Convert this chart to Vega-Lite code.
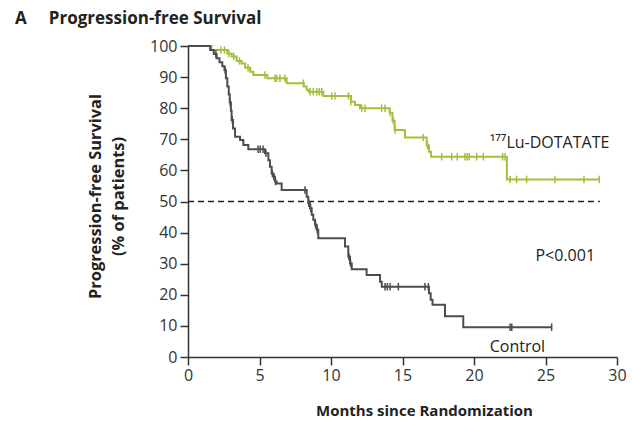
{
  "$schema": "https://vega.github.io/schema/vega-lite/v6.json",
  "width": 429,
  "height": 311,
  "autosize": "none",
  "padding": {"left": 188, "top": 46, "right": 15, "bottom": 69},
  "background": "white",
  "config": {"view": {"stroke": null}, "font": "Open Sans"},
  "title": {
    "text": "A\u00a0\u00a0\u00a0\u00a0 Progression-free Survival",
    "anchor": "start",
    "frame": "group",
    "dx": -173,
    "dy": 24,
    "offset": 21,
    "baseline": "alphabetic",
    "fontSize": 17,
    "fontWeight": "bold",
    "font": "Open Sans",
    "color": "#222"
  },
  "datasets": {
    "curves": [
      {"group": "Lu", "month": 0, "pfs": 100},
      {"group": "Lu", "month": 1.65, "pfs": 98.7},
      {"group": "Lu", "month": 2.75, "pfs": 97.6},
      {"group": "Lu", "month": 3.05, "pfs": 96.6},
      {"group": "Lu", "month": 3.4, "pfs": 95.2},
      {"group": "Lu", "month": 3.75, "pfs": 94.4},
      {"group": "Lu", "month": 4.0, "pfs": 93},
      {"group": "Lu", "month": 4.35, "pfs": 91.7},
      {"group": "Lu", "month": 4.57, "pfs": 90.7},
      {"group": "Lu", "month": 5.55, "pfs": 89.6},
      {"group": "Lu", "month": 6.9, "pfs": 88.0},
      {"group": "Lu", "month": 8.1, "pfs": 87.0},
      {"group": "Lu", "month": 8.3, "pfs": 85.9},
      {"group": "Lu", "month": 8.45, "pfs": 85.3},
      {"group": "Lu", "month": 9.46, "pfs": 83.9},
      {"group": "Lu", "month": 11.4, "pfs": 82.1},
      {"group": "Lu", "month": 11.68, "pfs": 81},
      {"group": "Lu", "month": 12.03, "pfs": 80},
      {"group": "Lu", "month": 14.1, "pfs": 78.5},
      {"group": "Lu", "month": 14.3, "pfs": 76},
      {"group": "Lu", "month": 14.45, "pfs": 73},
      {"group": "Lu", "month": 15.17, "pfs": 70.6},
      {"group": "Lu", "month": 16.69, "pfs": 68},
      {"group": "Lu", "month": 16.85, "pfs": 66},
      {"group": "Lu", "month": 17.0, "pfs": 64.4},
      {"group": "Lu", "month": 22.3, "pfs": 57.1},
      {"group": "Lu", "month": 28.8, "pfs": 57.1},
      {"group": "Control", "month": 0, "pfs": 100},
      {"group": "Control", "month": 1.55, "pfs": 98.7},
      {"group": "Control", "month": 1.8, "pfs": 97.4},
      {"group": "Control", "month": 2.0, "pfs": 96.1},
      {"group": "Control", "month": 2.2, "pfs": 94.8},
      {"group": "Control", "month": 2.4, "pfs": 93.5},
      {"group": "Control", "month": 2.55, "pfs": 92.2},
      {"group": "Control", "month": 2.65, "pfs": 89.6},
      {"group": "Control", "month": 2.75, "pfs": 87},
      {"group": "Control", "month": 2.85, "pfs": 84.4},
      {"group": "Control", "month": 2.92, "pfs": 81.8},
      {"group": "Control", "month": 3.0, "pfs": 79.2},
      {"group": "Control", "month": 3.05, "pfs": 76.2},
      {"group": "Control", "month": 3.15, "pfs": 73.5},
      {"group": "Control", "month": 3.29, "pfs": 70.8},
      {"group": "Control", "month": 3.64, "pfs": 69.8},
      {"group": "Control", "month": 3.87, "pfs": 68.2},
      {"group": "Control", "month": 4.22, "pfs": 66.8},
      {"group": "Control", "month": 5.38, "pfs": 65.5},
      {"group": "Control", "month": 5.62, "pfs": 63.3},
      {"group": "Control", "month": 5.73, "pfs": 61.2},
      {"group": "Control", "month": 5.85, "pfs": 59.0},
      {"group": "Control", "month": 5.97, "pfs": 58.0},
      {"group": "Control", "month": 6.08, "pfs": 56.4},
      {"group": "Control", "month": 6.2, "pfs": 55.8},
      {"group": "Control", "month": 6.55, "pfs": 53.7},
      {"group": "Control", "month": 8.3, "pfs": 51.5},
      {"group": "Control", "month": 8.41, "pfs": 49.4},
      {"group": "Control", "month": 8.53, "pfs": 47.8},
      {"group": "Control", "month": 8.65, "pfs": 45.7},
      {"group": "Control", "month": 8.76, "pfs": 44.1},
      {"group": "Control", "month": 8.88, "pfs": 42.5},
      {"group": "Control", "month": 9.0, "pfs": 40.9},
      {"group": "Control", "month": 9.11, "pfs": 38.2},
      {"group": "Control", "month": 10.98, "pfs": 35.5},
      {"group": "Control", "month": 11.21, "pfs": 32.3},
      {"group": "Control", "month": 11.33, "pfs": 30.1},
      {"group": "Control", "month": 11.45, "pfs": 28.2},
      {"group": "Control", "month": 12.49, "pfs": 26.4},
      {"group": "Control", "month": 13.43, "pfs": 24.2},
      {"group": "Control", "month": 13.55, "pfs": 22.6},
      {"group": "Control", "month": 16.85, "pfs": 20.5},
      {"group": "Control", "month": 16.97, "pfs": 18.4},
      {"group": "Control", "month": 17.1, "pfs": 16.8},
      {"group": "Control", "month": 17.97, "pfs": 13.1},
      {"group": "Control", "month": 19.25, "pfs": 9.6},
      {"group": "Control", "month": 25.43, "pfs": 9.6}
    ],
    "censor": [
      {"group": "Lu", "month": 2.3, "pfs": 98.7},
      {"group": "Lu", "month": 2.55, "pfs": 98.7},
      {"group": "Lu", "month": 2.85, "pfs": 97.6},
      {"group": "Lu", "month": 3.2, "pfs": 96.6},
      {"group": "Lu", "month": 3.6, "pfs": 95.2},
      {"group": "Lu", "month": 4.2, "pfs": 93},
      {"group": "Lu", "month": 5.38, "pfs": 90.7},
      {"group": "Lu", "month": 6.08, "pfs": 89.6},
      {"group": "Lu", "month": 6.2, "pfs": 89.6},
      {"group": "Lu", "month": 6.43, "pfs": 89.6},
      {"group": "Lu", "month": 6.78, "pfs": 89.6},
      {"group": "Lu", "month": 8.07, "pfs": 88.0},
      {"group": "Lu", "month": 8.53, "pfs": 85.3},
      {"group": "Lu", "month": 8.76, "pfs": 85.3},
      {"group": "Lu", "month": 9.0, "pfs": 85.3},
      {"group": "Lu", "month": 9.18, "pfs": 85.3},
      {"group": "Lu", "month": 9.35, "pfs": 85.3},
      {"group": "Lu", "month": 10.05, "pfs": 83.9},
      {"group": "Lu", "month": 10.28, "pfs": 83.9},
      {"group": "Lu", "month": 11.22, "pfs": 83.9},
      {"group": "Lu", "month": 11.38, "pfs": 82.1},
      {"group": "Lu", "month": 12.15, "pfs": 80},
      {"group": "Lu", "month": 12.38, "pfs": 80},
      {"group": "Lu", "month": 13.54, "pfs": 80},
      {"group": "Lu", "month": 13.78, "pfs": 80},
      {"group": "Lu", "month": 14.13, "pfs": 78.5},
      {"group": "Lu", "month": 14.36, "pfs": 76},
      {"group": "Lu", "month": 14.48, "pfs": 73},
      {"group": "Lu", "month": 16.45, "pfs": 70.6},
      {"group": "Lu", "month": 16.75, "pfs": 68},
      {"group": "Lu", "month": 17.74, "pfs": 64.4},
      {"group": "Lu", "month": 18.44, "pfs": 64.4},
      {"group": "Lu", "month": 18.83, "pfs": 64.4},
      {"group": "Lu", "month": 19.37, "pfs": 64.4},
      {"group": "Lu", "month": 19.53, "pfs": 64.4},
      {"group": "Lu", "month": 19.67, "pfs": 64.4},
      {"group": "Lu", "month": 20.19, "pfs": 64.4},
      {"group": "Lu", "month": 20.65, "pfs": 64.4},
      {"group": "Lu", "month": 22.0, "pfs": 64.4},
      {"group": "Lu", "month": 22.17, "pfs": 64.4},
      {"group": "Lu", "month": 22.52, "pfs": 57.1},
      {"group": "Lu", "month": 22.98, "pfs": 57.1},
      {"group": "Lu", "month": 23.68, "pfs": 57.1},
      {"group": "Lu", "month": 25.66, "pfs": 57.1},
      {"group": "Lu", "month": 27.69, "pfs": 57.1},
      {"group": "Lu", "month": 28.76, "pfs": 57.1},
      {"group": "Control", "month": 1.95, "pfs": 97.4},
      {"group": "Control", "month": 2.6, "pfs": 92.2},
      {"group": "Control", "month": 2.95, "pfs": 81.8},
      {"group": "Control", "month": 3.1, "pfs": 76.2},
      {"group": "Control", "month": 4.9, "pfs": 66.8},
      {"group": "Control", "month": 5.05, "pfs": 66.8},
      {"group": "Control", "month": 5.25, "pfs": 66.8},
      {"group": "Control", "month": 5.45, "pfs": 65.5},
      {"group": "Control", "month": 5.9, "pfs": 59.0},
      {"group": "Control", "month": 6.0, "pfs": 58.0},
      {"group": "Control", "month": 6.12, "pfs": 56.4},
      {"group": "Control", "month": 8.18, "pfs": 53.7},
      {"group": "Control", "month": 8.45, "pfs": 49.4},
      {"group": "Control", "month": 8.58, "pfs": 47.8},
      {"group": "Control", "month": 8.92, "pfs": 42.5},
      {"group": "Control", "month": 9.04, "pfs": 40.9},
      {"group": "Control", "month": 11.25, "pfs": 32.3},
      {"group": "Control", "month": 11.37, "pfs": 30.1},
      {"group": "Control", "month": 13.78, "pfs": 22.6},
      {"group": "Control", "month": 13.94, "pfs": 22.6},
      {"group": "Control", "month": 14.13, "pfs": 22.6},
      {"group": "Control", "month": 14.71, "pfs": 22.6},
      {"group": "Control", "month": 16.57, "pfs": 22.6},
      {"group": "Control", "month": 16.81, "pfs": 22.6},
      {"group": "Control", "month": 22.52, "pfs": 9.6},
      {"group": "Control", "month": 22.64, "pfs": 9.6},
      {"group": "Control", "month": 25.43, "pfs": 9.6}
    ],
    "refline": [
      {"month": 0, "month_end": 28.8, "pfs": 50}
    ],
    "labels": [
      {"label": "¹⁷⁷Lu-DOTATATE", "month": 21.1, "pfs": 68.8},
      {"label": "P<0.001", "month": 24.3, "pfs": 32.5},
      {"label": "Control", "month": 21.1, "pfs": 3.2}
    ]
  },
  "encoding": {
    "x": {
      "field": "month",
      "type": "quantitative",
      "scale": {"domain": [0, 30], "nice": false, "zero": false},
      "axis": {
        "title": "Months since Randomization",
        "values": [0, 5, 10, 15, 20, 25, 30],
        "grid": false,
        "domainColor": "#333",
        "domainWidth": 1.5,
        "tickColor": "#333",
        "tickWidth": 1.5,
        "tickSize": 8,
        "labelFlush": false,
        "labelFont": "Open Sans",
        "labelFontSize": 16,
        "labelColor": "#333",
        "labelPadding": 2,
        "titleFont": "Open Sans",
        "titleFontSize": 15,
        "titleFontWeight": "bold",
        "titleColor": "#222",
        "titlePadding": 20,
        "titleX": 236
      }
    },
    "y": {
      "field": "pfs",
      "type": "quantitative",
      "scale": {"domain": [0, 100], "nice": false},
      "axis": {
        "title": ["Progression-free Survival", "(% of patients)"],
        "values": [0, 10, 20, 30, 40, 50, 60, 70, 80, 90, 100],
        "grid": false,
        "domainColor": "#333",
        "domainWidth": 1.5,
        "tickColor": "#333",
        "tickWidth": 1.5,
        "tickSize": 8,
        "labelFlush": false,
        "labelFont": "Open Sans",
        "labelFontSize": 16,
        "labelColor": "#333",
        "labelPadding": 3,
        "titleFont": "Open Sans",
        "titleFontSize": 16.4,
        "titleFontWeight": "bold",
        "titleColor": "#222",
        "titlePadding": 23,
        "titleLineHeight": 23,
        "titleY": 150
      }
    }
  },
  "layer": [
    {
      "data": {"name": "refline"},
      "mark": {"type": "rule", "color": "#222", "strokeWidth": 1.5, "strokeDash": [6, 4]},
      "encoding": {"x2": {"field": "month_end"}}
    },
    {
      "data": {"name": "curves"},
      "mark": {"type": "line", "interpolate": "step-after", "strokeWidth": 2},
      "encoding": {
        "color": {
          "field": "group",
          "type": "nominal",
          "scale": {"domain": ["Lu", "Control"], "range": ["#a2bf3e", "#4d4d4f"]},
          "legend": null
        },
        "detail": {"field": "group"}
      }
    },
    {
      "data": {"name": "censor"},
      "mark": {"type": "point", "shape": "M0,-1L0,1", "size": 56, "strokeWidth": 1.5, "filled": false, "opacity": 1},
      "encoding": {
        "color": {
          "field": "group",
          "type": "nominal",
          "scale": {"domain": ["Lu", "Control"], "range": ["#a2bf3e", "#4d4d4f"]},
          "legend": null
        }
      }
    },
    {
      "data": {"name": "labels"},
      "mark": {"type": "text", "align": "left", "baseline": "middle", "font": "Open Sans", "fontSize": 16, "color": "#222"},
      "encoding": {"text": {"field": "label"}}
    }
  ]
}
